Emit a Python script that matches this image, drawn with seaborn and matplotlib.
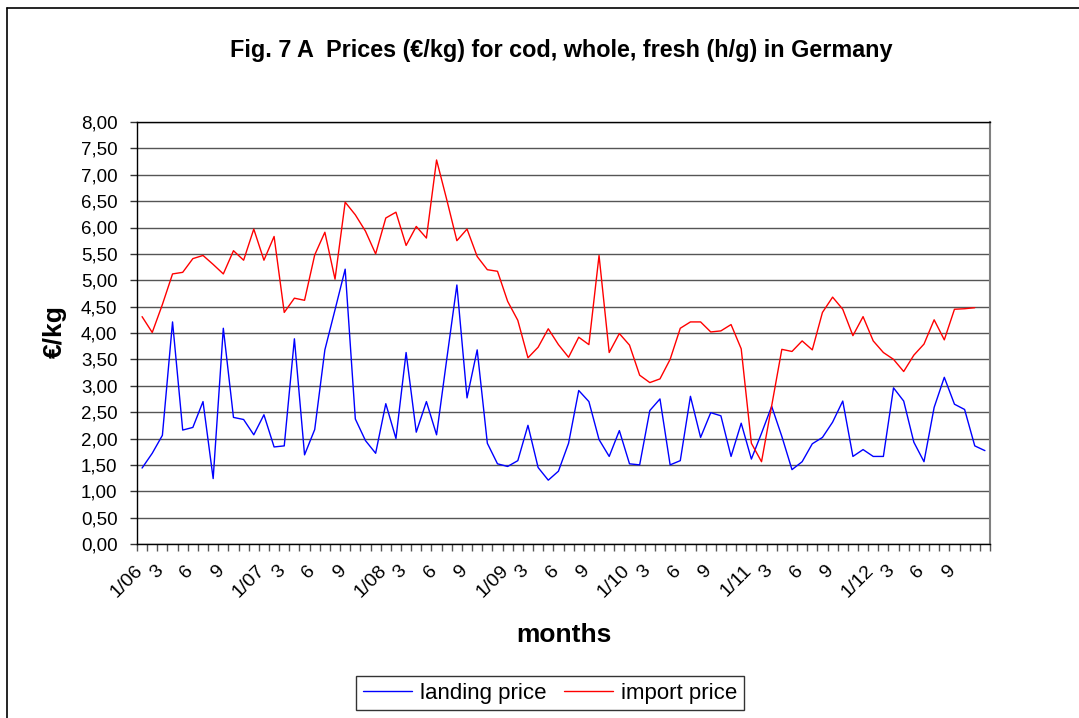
import numpy as np
import pandas as pd
import matplotlib
matplotlib.use("Agg")
import matplotlib.pyplot as plt
import matplotlib.transforms as mtransforms
from matplotlib.lines import Line2D
from matplotlib.ticker import FuncFormatter, FixedLocator, MultipleLocator
import seaborn as sns

years = ["06", "07", "08", "09", "10", "11", "12"]
months = [f"{m}/{y}" for y in years for m in range(1, 13)]

landing_price = [
    1.44, 1.72, 2.06, 4.21, 2.16, 2.21, 2.70, 1.24, 4.09, 2.40, 2.36, 2.07,
    2.45, 1.84, 1.86, 3.89, 1.69, 2.17, 3.68, 4.44, 5.21, 2.37, 1.96, 1.72,
    2.66, 2.00, 3.63, 2.12, 2.70, 2.07, 3.50, 4.91, 2.77, 3.68, 1.91, 1.52,
    1.47, 1.58, 2.25, 1.45, 1.21, 1.38, 1.91, 2.91, 2.70, 1.98, 1.66, 2.15,
    1.52, 1.50, 2.53, 2.75, 1.50, 1.58, 2.80, 2.02, 2.49, 2.43, 1.66, 2.29,
    1.61, 2.10, 2.61, 2.04, 1.41, 1.56, 1.90, 2.02, 2.31, 2.71, 1.66, 1.79,
    1.66, 1.66, 2.96, 2.71, 1.93, 1.56, 2.59, 3.16, 2.65, 2.55, 1.86, 1.77,
]
import_price = [
    4.31, 4.01, 4.54, 5.12, 5.15, 5.41, 5.47, 5.30, 5.12, 5.56, 5.38, 5.97,
    5.38, 5.83, 4.39, 4.66, 4.62, 5.48, 5.91, 5.02, 6.48, 6.24, 5.93, 5.50,
    6.18, 6.29, 5.66, 6.02, 5.80, 7.28, 6.53, 5.75, 5.97, 5.45, 5.20, 5.17,
    4.60, 4.24, 3.53, 3.73, 4.08, 3.78, 3.54, 3.92, 3.78, 5.47, 3.63, 3.99,
    3.77, 3.20, 3.06, 3.13, 3.50, 4.09, 4.21, 4.21, 4.02, 4.04, 4.16, 3.70,
    1.91, 1.56, 2.62, 3.69, 3.65, 3.85, 3.68, 4.39, 4.68, 4.45, 3.95, 4.31,
    3.85, 3.63, 3.50, 3.27, 3.58, 3.79, 4.25, 3.87, 4.45, 4.46, 4.48, np.nan,
]
series_names = ["landing price", "import price"]
series_colors = ["#0000FF", "#FF0000"]

n = len(months)
idx = np.arange(n)
df = pd.concat([
    pd.DataFrame({"pos": idx, "month": months, "price": landing_price, "series": series_names[0]}),
    pd.DataFrame({"pos": idx, "month": months, "price": import_price, "series": series_names[1]}),
], ignore_index=True)

def short_label(m):
    mm, yy = m.split("/")
    if mm == "1":
        return m
    if mm in ("3", "6", "9"):
        return mm
    return ""

tick_labels = [short_label(m) for m in months]

sns.set_style("white")
plt.rcParams["font.family"] = ["Liberation Sans", "DejaVu Sans"]
plt.rcParams["text.color"] = "black"
plt.rcParams["xtick.labelcolor"] = "black"
plt.rcParams["ytick.labelcolor"] = "black"

fig = plt.figure(figsize=(10.79, 7.18), dpi=100)
ax = fig.add_axes([137 / 1079, 1 - 544 / 718, (990 - 137) / 1079, (544 - 122) / 718])

sns.lineplot(data=df, x="pos", y="price", hue="series", hue_order=series_names,
             palette=dict(zip(series_names, series_colors)), estimator=None,
             sort=False, linewidth=1.0, ax=ax, legend=False)

ax.set_xlim(-0.5, n - 0.5)
ax.set_ylim(0, 8)
ax.yaxis.set_major_locator(MultipleLocator(0.5))
ax.yaxis.set_major_formatter(FuncFormatter(lambda v, p: f"{v:.2f}".replace(".", ",")))
ax.grid(axis="y", color="#555555", linewidth=1.0)
ax.set_axisbelow(True)

lab_pos = [i for i, t in enumerate(tick_labels) if t]
ax.xaxis.set_major_locator(FixedLocator(lab_pos))
ax.set_xticklabels([tick_labels[i] for i in lab_pos], rotation=45, ha="right",
                   rotation_mode="anchor", fontsize=14)
ax.xaxis.set_minor_locator(FixedLocator(np.arange(-0.5, n, 1.0)))
ax.tick_params(axis="x", which="major", length=0, pad=13)
ax.tick_params(axis="x", which="minor", length=5, width=1, color="#555555", direction="out", bottom=True)
ax.tick_params(axis="y", which="major", length=5, width=1, color="#333333", direction="out",
               left=True, pad=9, labelsize=13.5)
offset = mtransforms.ScaledTranslation(-8 / 100, 0, fig.dpi_scale_trans)
for lbl in ax.get_xticklabels():
    lbl.set_transform(lbl.get_transform() + offset)

for side in ["left", "top", "bottom"]:
    ax.spines[side].set_color("black")
    ax.spines[side].set_linewidth(1.0)
ax.spines["right"].set_color("#808080")
ax.spines["right"].set_linewidth(1.5)
ax.set_xlabel("")
ax.set_ylabel("")

fig.text(561 / 1079, 1 - 50 / 718, "Fig. 7 A  Prices (€/kg) for cod, whole, fresh (h/g) in Germany",
         ha="center", va="center", fontsize=16.8, fontweight="bold")
fig.text(564 / 1079, 1 - 635 / 718, "months", ha="center", va="center", fontsize=19, fontweight="bold")
fig.text(55 / 1079, 1 - 332 / 718, "€/kg", ha="center", va="center", rotation=90,
         fontsize=19, fontweight="bold")

handles = [Line2D([0], [0], color=c, lw=1.0) for c in series_colors]
leg = fig.legend(handles, series_names, loc="center", bbox_to_anchor=(550 / 1079, 1 - 693 / 718),
                 ncol=2, fontsize=16, frameon=True, fancybox=False, shadow=False,
                 handlelength=2.2, handletextpad=0.35, columnspacing=0.8, borderpad=0.3,
                 borderaxespad=0)
leg.get_frame().set_edgecolor("black")
leg.get_frame().set_linewidth(1.0)

fig.add_artist(Line2D([7 / 1079, 7 / 1079], [0, 1 - 8 / 718], transform=fig.transFigure,
                      color="black", lw=1.2))
fig.add_artist(Line2D([7 / 1079, 1], [1 - 8 / 718, 1 - 8 / 718], transform=fig.transFigure,
                      color="black", lw=1.2))

fig.savefig("out.png", dpi=100)
